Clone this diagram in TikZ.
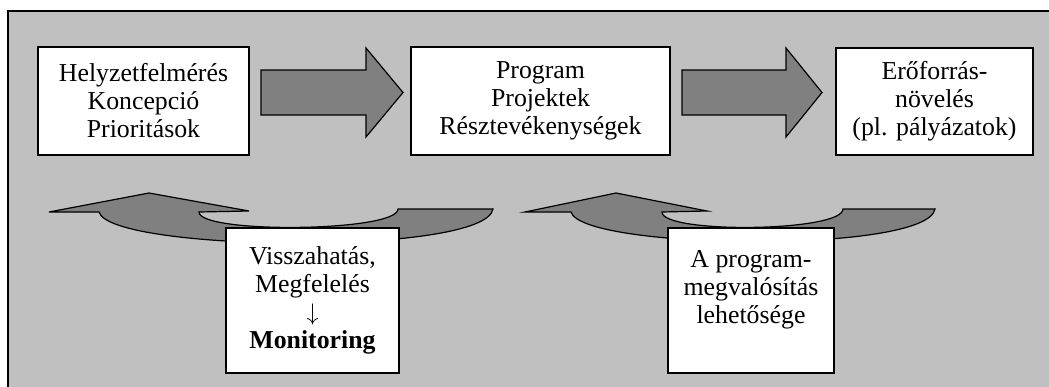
\documentclass[tikz,border=0pt]{standalone}
\usepackage{fontspec}
\setmainfont{Liberation Serif}
\usetikzlibrary{positioning, calc}

\definecolor{panelgray}{RGB}{192,192,192}
\definecolor{arrowgray}{RGB}{128,128,128}

\begin{document}
\begin{tikzpicture}[
    % Global Styles (one unit = one pixel of the layout, y downwards)
    x=0.5pt, y=-0.5pt,
    font=\fontsize{12.9}{14}\selectfont,
    % Style for the white text boxes
    textbox/.style={draw=black, line width=0.8pt, fill=white, align=center, inner sep=0pt},
    % Style for the grey block arrows
    blockarrow/.style={draw=black, line width=0.6pt, fill=arrowgray, line join=miter},
    % Style for the curved feedback arrows
    curvedarrow/.style={draw=black, line width=0.6pt, fill=arrowgray, line join=miter}
]

\useasboundingbox (0,0) rectangle (1049,386);
\clip (0,0) rectangle (1049,386);

%% --- BACKGROUND PANEL ---
\draw[fill=panelgray, line width=0.6pt] (8,11) rectangle (1070,400);

%% --- TOP ROW: PLANNING CHAIN ---
\node[textbox, minimum width=105.5pt, minimum height=54pt] (concept) at (143.5,101)
    {Helyzetfelmérés\\Koncepció\\Prioritások};
\node[textbox, minimum width=129.5pt, minimum height=54pt] (program) at (540.5,101)
    {Program\\Projektek\\Résztevékenységek};
\node[textbox, minimum width=98.5pt, minimum height=53.5pt] (resource) at (934.5,101.5)
    {Erőforrás-\\növelés\\(pl. pályázatok)};

% Block arrows between the boxes
\draw[blockarrow] (261,70) -- (366,70) -- (366,48) -- (403,92.5) -- (366,137)
    -- (366,115) -- (261,115) -- cycle;
\draw[blockarrow] (682,70) -- (786,70) -- (786,48) -- (822,92.5) -- (786,137)
    -- (786,115) -- (682,115) -- cycle;

%% --- BOTTOM ROW: FEEDBACK ---
% Curved arrow under the first box
\draw[curvedarrow] (49,212) -- (149,193) -- (249,211) -- (199,212)
    .. controls (199,234) and (398,232) .. (398,209)
    -- (493,209)
    .. controls (485,256) and (110,252) .. (99,212)
    -- cycle;

% Curved arrow under the second box
\draw[curvedarrow] (525,212) -- (616,193) -- (707,211) -- (662,212)
    .. controls (662,234) and (843,232) .. (843,209)
    -- (935,209)
    .. controls (927,254) and (582,250) .. (571,212)
    -- cycle;

% Boxes on top of the curved arrows
\node[textbox, minimum width=86.5pt, minimum height=72.5pt] (feedback) at (312.5,300.5)
    {Visszahatás,\\Megfelelés\\$\downarrow$\\\textbf{Monitoring}};
\node[textbox, minimum width=83pt, minimum height=72.5pt] (chance) at (751,300.5)
    {A program-\\megvalósítás\\lehetősége\\\mbox{}};

\end{tikzpicture}
\end{document}
